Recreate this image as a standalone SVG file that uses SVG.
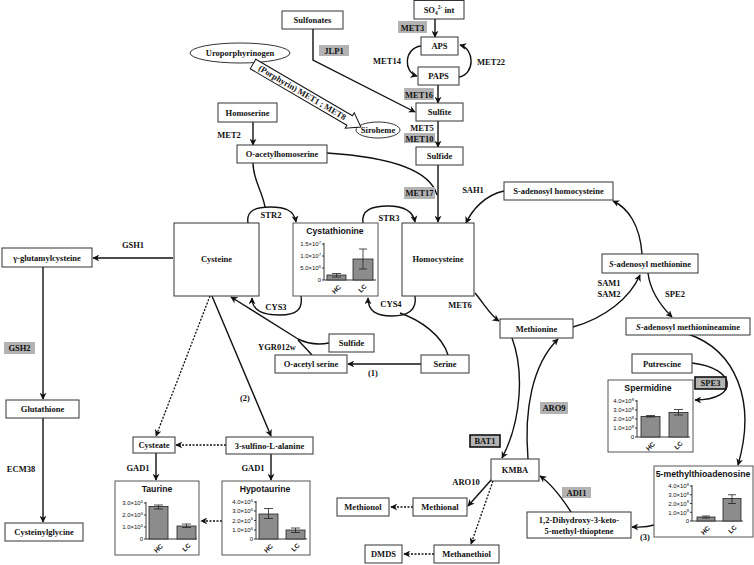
<svg xmlns="http://www.w3.org/2000/svg" width="754" height="565" viewBox="0 0 754 565">
<defs>
<marker id="ah" viewBox="0 0 10 10" refX="9" refY="5" markerWidth="7" markerHeight="7" markerUnits="userSpaceOnUse" orient="auto">
<path d="M0,0 L10,5 L0,10 L3,5 Z" fill="#111"/>
</marker>
<style>
.n rect{fill:#fff;stroke:#333;stroke-width:1}
.n ellipse{fill:#fff;stroke:#333;stroke-width:1}
text{font-family:"Liberation Serif","Times New Roman",serif;font-weight:bold;font-size:8.5px;fill:#111;text-anchor:middle}
.lb rect{fill:#b3b3b3;stroke:none}
.lb rect.k{stroke:#111;stroke-width:1.6}
.c path{fill:none;stroke:#111;stroke-width:1.4;marker-end:url(#ah)}
.c path.nm{marker-end:none}
.c path.d{stroke-dasharray:2 1.5;stroke-width:1.3}
.p rect.f{fill:#fff;stroke:#555;stroke-width:1}
.p text.tt{font-family:"Liberation Sans",Arial,sans-serif;font-size:8.7px;font-weight:bold}
.p text.tk{font-family:"Liberation Sans",Arial,sans-serif;font-size:6px;font-weight:normal;text-anchor:end}
.p text.x{font-family:"Liberation Sans",Arial,sans-serif;font-size:6.5px;font-weight:bold}
.p path.ax{fill:none;stroke:#222;stroke-width:0.9}
.p rect.b{fill:#8c8c8c;stroke:#222;stroke-width:0.8}
.p path.e{fill:none;stroke:#222;stroke-width:0.8}
</style>
</defs>

<!-- connectors -->
<g id="connectors" class="c">
<path d="M435,19 L435,37"/>
<path d="M421,46 C404,48 403,72 417,76"/>
<path d="M459,77 C475,74 475,49 460,45"/>
<path d="M438,85 L438,103"/>
<path d="M313,29 L313,60 L415,112"/>
<path d="M438,121 L438,147"/>
<path d="M438,165 L438,222"/>
<path class="nm" d="M327,153 C390,157 430,170 437,195"/>
<path d="M253,122 L253,145"/>
<path class="nm" d="M253,163 C253,180 262,190 265,207"/>
<path d="M248,223 C246,211 255,207 270,207 C285,207 294,210 296,222"/>
<path d="M363,223 C361,210 372,206 388,206 C404,206 413,211 415,222"/>
<path d="M301,296 C303,310 296,315 280,315 C263,315 252,311 252,298"/>
<path d="M415,296 C417,310 408,316 392,316 C376,316 368,311 368,298"/>
<path class="nm" d="M448,355 C442,335 420,320 400,313"/>
<path d="M329,343 C318,345 306,343 298,339 L231,297"/>
<path class="nm" d="M312,355 L298,340"/>
<path d="M421,364 L348,364"/>
<path d="M173,258 L93,258"/>
<path d="M43,267 L43,399"/>
<path d="M43,418 L43,522"/>
<path class="d" d="M210,296 L156,436"/>
<path d="M212,296 L271,436"/>
<path class="d" d="M226,445 L176,445"/>
<path d="M156,453 L156,480"/>
<path d="M271,454 L271,480"/>
<path class="d" d="M222,521 L201,521"/>
<path d="M475,293 C485,305 490,315 499,321"/>
<path d="M504,191 C485,195 472,210 466,223"/>
<path d="M642,254 C640,225 628,208 613,201"/>
<path d="M573,327 C605,318 630,298 640,275"/>
<path d="M648,273 C650,290 660,305 672,317"/>
<path d="M688,334 C735,350 757,400 738,465"/>
<path d="M692,363 C737,368 740,400 695,400"/>
<path d="M512,338 C524,370 522,420 502,458"/>
<path d="M528,459 C524,410 532,365 558,339"/>
<path d="M571,512 C560,495 550,483 540,476"/>
<path d="M654,525 C645,528 640,527 632,527"/>
<path d="M492,479 L468,506"/>
<path class="d" d="M493,481 L471,544"/>
<path class="d" d="M413,507 L391,507"/>
<path class="d" d="M434,554 L404,554"/>
</g>

<!-- enzyme labels -->
<g id="labels" class="lb">
<rect x="398" y="21" width="29" height="12"/><text x="412.5" y="30.5">MET3</text>
<text x="387" y="64">MET14</text>
<text x="491" y="65">MET22</text>
<rect x="404" y="88" width="30" height="12"/><text x="419" y="97.5">MET16</text>
<rect x="319" y="45" width="30" height="11"/><text x="334" y="53.5">JLP1</text>
<text x="422" y="131">MET5</text>
<rect x="404" y="133" width="31" height="10"/><text x="419.5" y="141.5">MET10</text>
<text x="229" y="138">MET2</text>
<rect x="404" y="187" width="31" height="12"/><text x="419.5" y="196">MET17</text>
<text x="473" y="193">SAH1</text>
<text x="271" y="218">STR2</text>
<text x="389" y="221">STR3</text>
<text x="133" y="248">GSH1</text>
<text x="276" y="310">CYS3</text>
<text x="391" y="307">CYS4</text>
<text x="460" y="308">MET6</text>
<text x="609" y="286">SAM1</text>
<text x="609" y="297">SAM2</text>
<text x="675" y="297">SPE2</text>
<text x="277" y="350">YGR012w</text>
<text x="373" y="376">(1)</text>
<text x="245" y="401">(2)</text>
<rect x="4" y="342" width="31" height="12"/><text x="19.5" y="351">GSH2</text>
<rect x="540" y="402" width="28" height="12"/><text x="554" y="411">ARO9</text>
<rect class="k" x="470" y="435" width="30" height="12"/><text x="485" y="444">BAT1</text>
<rect class="k" x="695" y="377" width="31" height="12"/><text x="710.5" y="386">SPE3</text>
<text x="466" y="485">ARO10</text>
<rect x="562" y="487" width="29" height="11"/><text x="576.5" y="495.5">ADI1</text>
<text x="645" y="540">(3)</text>
<text x="21" y="472">ECM38</text>
<text x="138" y="471">GAD1</text>
<text x="253" y="471">GAD1</text>
</g>

<!-- nodes -->
<g id="so4" class="n"><rect x="414" y="0.5" width="50" height="18.5"/><text x="439" y="13">SO<tspan font-size="5.5" dy="2">4</tspan><tspan font-size="5.5" dy="-6">2-</tspan><tspan dy="4"> int</tspan></text></g>
<g id="aps" class="n"><rect x="421" y="37" width="37" height="18"/><text x="439.5" y="49">APS</text></g>
<g id="paps" class="n"><rect x="418" y="67" width="41" height="18"/><text x="438.5" y="79">PAPS</text></g>
<g id="sulfite" class="n"><rect x="416" y="103" width="47" height="18"/><text x="439.5" y="115">Sulfite</text></g>
<g id="sulfide1" class="n"><rect x="416" y="147" width="47" height="18"/><text x="439.5" y="159">Sulfide</text></g>
<g id="sulfonates" class="n"><rect x="282" y="11" width="61" height="18"/><text x="312.5" y="23">Sulfonates</text></g>
<g id="uroporphyrinogen" class="n"><ellipse cx="240" cy="53" rx="50" ry="10"/><text x="240" y="56">Uroporphyrinogen</text></g>
<g id="siroheme" class="n"><ellipse cx="378" cy="130" rx="22" ry="8"/><text x="378" y="133">Siroheme</text></g>
<g id="porphyrin" transform="translate(253,64) rotate(30.3)">
<path d="M0,-5.5 H112 V-9 L125,0 L112,9 V5.5 H0 Z" fill="#fff" stroke="#111" stroke-width="1"/>
<text x="57" y="2.7" font-size="7.6">(Porphyrin)  MET1 ; MET8</text>
</g>
<g id="homoserine" class="n"><rect x="218" y="103" width="59" height="19"/><text x="247.5" y="115.5">Homoserine</text></g>
<g id="oah" class="n"><rect x="237" y="145" width="90" height="18"/><text x="282" y="157">O-acetylhomoserine</text></g>
<g id="cysteine" class="n"><rect x="174" y="223" width="85" height="73"/><text x="216.5" y="262">Cysteine</text></g>
<g id="homocysteine" class="n"><rect x="402" y="223" width="72" height="73"/><text x="438" y="262">Homocysteine</text></g>
<g id="gglu" class="n"><rect x="2" y="248" width="90" height="19"/><text x="47" y="260.5">γ-glutamylcysteine</text></g>
<g id="glutathione" class="n"><rect x="6" y="400" width="73" height="18"/><text x="42.5" y="412">Glutathione</text></g>
<g id="cysgly" class="n"><rect x="5" y="523" width="78" height="18"/><text x="44" y="535">Cysteinylglycine</text></g>
<g id="sulfide2" class="n"><rect x="329" y="334" width="45" height="18"/><text x="351.5" y="346">Sulfide</text></g>
<g id="oaser" class="n"><rect x="275" y="355" width="72" height="18"/><text x="311" y="367">O-acetyl serine</text></g>
<g id="serine" class="n"><rect x="421" y="355" width="48" height="18"/><text x="445" y="367">Serine</text></g>
<g id="cysteate" class="n"><rect x="133" y="437" width="42" height="16"/><text x="154" y="448">Cysteate</text></g>
<g id="sulfino" class="n"><rect x="226" y="437" width="87" height="17"/><text x="269.5" y="448.5">3-sulfino-L-alanine</text></g>
<g id="sah" class="n"><rect x="504" y="182" width="109" height="18"/><text x="558.5" y="194">S-adenosyl homocysteine</text></g>
<g id="sam" class="n"><rect x="602" y="254" width="96" height="19"/><text x="650" y="266.5"><tspan font-style="italic">S</tspan>-adenosyl methionine</text></g>
<g id="sama" class="n"><rect x="626" y="318" width="124" height="17"/><text x="688" y="329.5"><tspan font-style="italic">S</tspan>-adenosyl methionineamine</text></g>
<g id="methionine" class="n"><rect x="500" y="319" width="73" height="19"/><text x="536.5" y="331.5">Methionine</text></g>
<g id="putrescine" class="n"><rect x="632" y="354" width="60" height="19"/><text x="662" y="366.5">Putrescine</text></g>
<g id="dihydroxy" class="n"><rect x="527" y="512" width="104" height="26"/><text x="579" y="523">1,2-Dihydroxy-3-keto-</text><text x="579" y="534">5-methyl-thioptene</text></g>
<g id="kmba" class="n"><rect x="491" y="459" width="48" height="22"/><text x="515" y="473">KMBA</text></g>
<g id="methional" class="n"><rect x="413" y="498" width="54" height="18"/><text x="440" y="510">Methional</text></g>
<g id="methionol" class="n"><rect x="337" y="498" width="52" height="18"/><text x="363" y="510">Methionol</text></g>
<g id="methanethiol" class="n"><rect x="434" y="545" width="65" height="18"/><text x="466.5" y="557">Methanethiol</text></g>
<g id="dmds" class="n"><rect x="365" y="545" width="37" height="18"/><text x="383.5" y="557">DMDS</text></g>

<!-- chart panels -->
<g id="cystathionine" class="p">
<rect class="f" x="293" y="223" width="85" height="73"/>
<text class="tt" x="335" y="234">Cystathionine</text>
<path class="ax" d="M324,243 V280 H376 M322,244 H324 M322,256 H324 M322,268 H324 M322,280 H324"/>
<text class="tk" x="321" y="246">1.5×10<tspan font-size="4.2" dy="-2.2">7</tspan></text>
<text class="tk" x="321" y="258">1.0×10<tspan font-size="4.2" dy="-2.2">7</tspan></text>
<text class="tk" x="321" y="270">5.0×10<tspan font-size="4.2" dy="-2.2">6</tspan></text>
<text class="tk" x="321" y="282">0</text>
<rect class="b" x="327" y="275" width="19" height="5"/>
<rect class="b" x="353" y="259" width="20" height="21"/>
<path class="e" d="M336.5,273.5 V277 M332,273.5 H341 M332,277 H341 M363,249 V269 M359,249 H367 M359,269 H367"/>
<text class="x" transform="translate(338,291) rotate(-45)">HC</text>
<text class="x" transform="translate(364,290) rotate(-45)">LC</text>
</g>

<g id="taurine" class="p">
<rect class="f" x="115" y="481" width="84" height="74"/>
<text class="tt" x="157" y="492">Taurine</text>
<path class="ax" d="M146,502 V539 H197 M144,503 H146 M144,515 H146 M144,527 H146 M144,539 H146"/>
<text class="tk" x="143" y="505">3.0×10<tspan font-size="4.2" dy="-2.2">6</tspan></text>
<text class="tk" x="143" y="517">2.0×10<tspan font-size="4.2" dy="-2.2">6</tspan></text>
<text class="tk" x="143" y="529">1.0×10<tspan font-size="4.2" dy="-2.2">6</tspan></text>
<text class="tk" x="143" y="541">0</text>
<rect class="b" x="149" y="506.5" width="19" height="32.5"/>
<rect class="b" x="177" y="526" width="19" height="13"/>
<path class="e" d="M158.5,505 V509 M154,505 H163 M154,509 H163 M186.5,524 V527.5 M182,524 H191 M182,527.5 H191"/>
<text class="x" transform="translate(160,550) rotate(-45)">HC</text>
<text class="x" transform="translate(188,549) rotate(-45)">LC</text>
</g>

<g id="hypotaurine" class="p">
<rect class="f" x="222" y="481" width="88" height="74"/>
<text class="tt" x="265" y="492">Hypotaurine</text>
<path class="ax" d="M256,501 V539 H307 M254,502 H256 M254,511 H256 M254,520.5 H256 M254,530 H256 M254,539 H256"/>
<text class="tk" x="253" y="504">4.0×10<tspan font-size="4.2" dy="-2.2">6</tspan></text>
<text class="tk" x="253" y="513">3.0×10<tspan font-size="4.2" dy="-2.2">6</tspan></text>
<text class="tk" x="253" y="522.5">2.0×10<tspan font-size="4.2" dy="-2.2">6</tspan></text>
<text class="tk" x="253" y="532">1.0×10<tspan font-size="4.2" dy="-2.2">6</tspan></text>
<text class="tk" x="253" y="541">0</text>
<rect class="b" x="259" y="514" width="19" height="25"/>
<rect class="b" x="286" y="530" width="19" height="9"/>
<path class="e" d="M268.5,508.5 V518.5 M264,508.5 H273 M264,518.5 H273 M295.5,528 V532.5 M291,528 H300 M291,532.5 H300"/>
<text class="x" transform="translate(270,550) rotate(-45)">HC</text>
<text class="x" transform="translate(297,549) rotate(-45)">LC</text>
</g>

<g id="spermidine" class="p">
<rect class="f" x="608" y="380" width="85" height="72"/>
<text class="tt" x="648" y="391">Spermidine</text>
<path class="ax" d="M637,400 V437 H690 M635,401 H637 M635,410 H637 M635,419 H637 M635,428 H637 M635,437 H637"/>
<text class="tk" x="634" y="403">4.0×10<tspan font-size="4.2" dy="-2.2">8</tspan></text>
<text class="tk" x="634" y="412">3.0×10<tspan font-size="4.2" dy="-2.2">8</tspan></text>
<text class="tk" x="634" y="421">2.0×10<tspan font-size="4.2" dy="-2.2">8</tspan></text>
<text class="tk" x="634" y="430">1.0×10<tspan font-size="4.2" dy="-2.2">8</tspan></text>
<text class="tk" x="634" y="439">0</text>
<rect class="b" x="641" y="416.5" width="19" height="20.5"/>
<rect class="b" x="669" y="412.5" width="19" height="24.5"/>
<path class="e" d="M650.5,415.5 V417 M646,415.5 H655 M646,417 H655 M678.5,409.5 V415 M674,409.5 H683 M674,415 H683"/>
<text class="x" transform="translate(652,448) rotate(-45)">HC</text>
<text class="x" transform="translate(680,447) rotate(-45)">LC</text>
</g>

<g id="mta" class="p">
<rect class="f" x="654" y="466" width="99" height="71"/>
<text class="tt" x="703" y="477">5-methylthioadenosine</text>
<path class="ax" d="M692,485 V521 H743 M690,486 H692 M690,494.75 H692 M690,503.5 H692 M690,512.25 H692 M690,521 H692"/>
<text class="tk" x="689" y="488">4.0×10<tspan font-size="4.2" dy="-2.2">8</tspan></text>
<text class="tk" x="689" y="497">3.0×10<tspan font-size="4.2" dy="-2.2">8</tspan></text>
<text class="tk" x="689" y="505.5">2.0×10<tspan font-size="4.2" dy="-2.2">8</tspan></text>
<text class="tk" x="689" y="514.5">1.0×10<tspan font-size="4.2" dy="-2.2">8</tspan></text>
<text class="tk" x="689" y="523">0</text>
<rect class="b" x="697" y="517" width="18" height="4"/>
<rect class="b" x="723" y="498.5" width="18" height="22.5"/>
<path class="e" d="M706,516 V518 M702,516 H710 M702,518 H710 M732,494.75 V503.5 M728,494.75 H736 M728,503.5 H736"/>
<text class="x" transform="translate(707,532) rotate(-45)">HC</text>
<text class="x" transform="translate(734,531) rotate(-45)">LC</text>
</g>
</svg>
